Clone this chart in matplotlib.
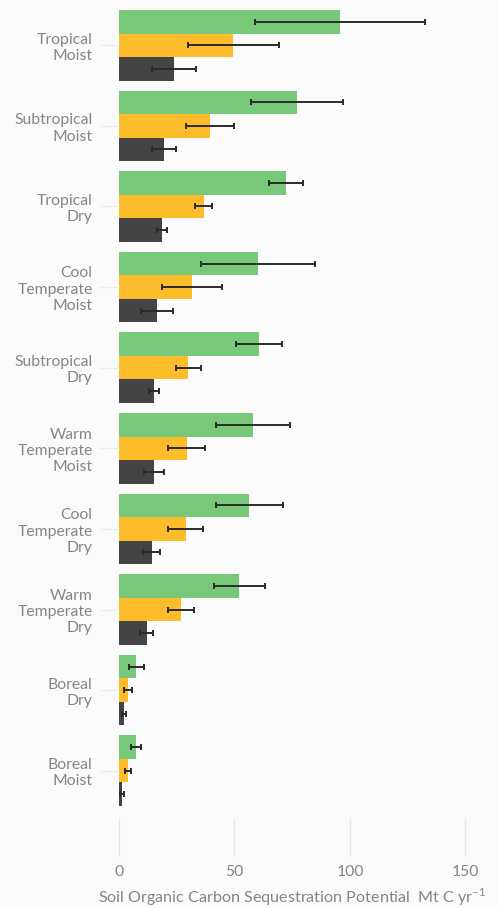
import matplotlib
matplotlib.use('Agg')
import matplotlib.pyplot as plt
import numpy as np

plt.rcParams['font.family'] = ['Lato', 'DejaVu Sans']
plt.rcParams['mathtext.fontset'] = 'custom'
plt.rcParams['mathtext.rm'] = 'Lato'

zones = ['Tropical\nMoist', 'Subtropical\nMoist', 'Tropical\nDry', 'Cool\nTemperate\nMoist',
         'Subtropical\nDry', 'Warm\nTemperate\nMoist', 'Cool\nTemperate\nDry',
         'Warm\nTemperate\nDry', 'Boreal\nDry', 'Boreal\nMoist']

# high / medium / low scenarios, Mt C per year
high = [95.7, 77.1, 72.3, 60.0, 60.6, 58.1, 56.3, 52.1, 7.4, 7.4]
high_err = [36.8, 20.0, 7.2, 24.7, 10.1, 16.0, 14.5, 11.0, 3.2, 2.2]
mid = [49.4, 39.4, 36.6, 31.7, 30.0, 29.3, 28.8, 26.8, 3.8, 3.8]
mid_err = [19.7, 10.2, 3.8, 13.0, 5.3, 8.1, 7.6, 5.8, 1.7, 1.3]
low = [23.8, 19.5, 18.7, 16.4, 15.2, 15.2, 14.1, 12.0, 2.2, 1.3]
low_err = [9.7, 5.2, 2.1, 6.8, 2.3, 4.3, 3.6, 2.8, 1.0, 0.8]

bg = '#fbfbfb'
fig = plt.figure(figsize=(4.98, 9.08), dpi=100, facecolor=bg)
ax = fig.add_axes([0.239, 0.0991, 0.742, 0.8954])
ax.set_facecolor(bg)

y = np.arange(len(zones))
h = 0.292
ekw = dict(ecolor='#2b2b2b', elinewidth=1.4, capsize=2, capthick=1.4)
ax.barh(y - h, high, height=h, color='#77c878', xerr=high_err, error_kw=ekw)
ax.barh(y, mid, height=h, color='#fdbd2a', xerr=mid_err, error_kw=ekw)
ax.barh(y + h, low, height=h, color='#444444', xerr=low_err, error_kw=ekw)

ax.set_xlim(0, 160)
ax.set_ylim(9.587, -0.5)
ax.set_yticks(y)
ax.set_yticklabels(zones)
ax.set_xticks([0, 50, 100, 150])

for s in ax.spines.values():
    s.set_visible(False)

ax.tick_params(axis='y', length=14, width=0.8, color='#ececec', pad=5,
               labelsize=11.3, labelcolor='#858585')
ax.tick_params(axis='x', length=27, width=0.8, color='#e6e6e6', pad=7,
               labelsize=11.3, labelcolor='#858585')

ax.set_xlabel('Soil Organic Carbon Sequestration Potential  Mt C yr$^{-1}$',
              fontsize=11.6, color='#858585')
ax.xaxis.set_label_coords(0.468, -0.084)

fig.savefig('out.png', dpi=100, facecolor=bg)
